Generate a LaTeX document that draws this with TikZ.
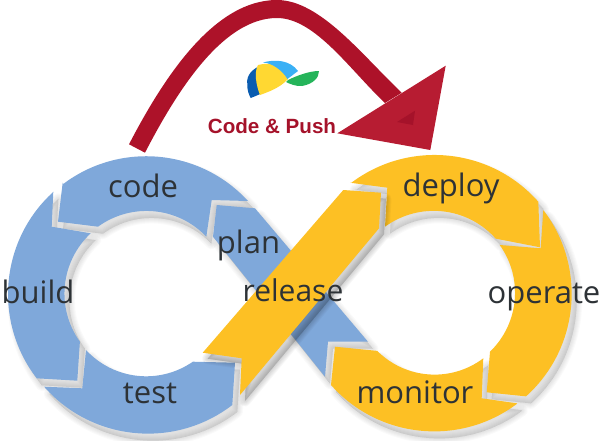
\documentclass[tikz,border=0pt]{standalone}
\usepackage{fontspec}
\setmainfont{Open Sans}
\newfontfamily\headfont{Liberation Sans}
\definecolor{ringblue}{HTML}{7FA8DA}
\definecolor{ringyellow}{HTML}{FDC024}
\definecolor{labelink}{HTML}{2D3236}
\definecolor{bandred}{HTML}{AD1229}
\definecolor{headred}{HTML}{B71C32}
\definecolor{headdark}{HTML}{A5122A}
\definecolor{capblue}{HTML}{0A5CB0}
\definecolor{capsky}{HTML}{3AB0F5}
\definecolor{capyellow}{HTML}{FFD832}
\definecolor{capgreen}{HTML}{25B45A}
\tikzset{
  stagelabel/.style={anchor=base,inner sep=0pt,text=labelink,font=\fontsize{31}{31}\selectfont},
  softedge/.style={draw=black,fill=black,draw opacity=.018,fill opacity=.018,line join=round},
  softedgeb/.style={draw=black,fill=black,draw opacity=.03,fill opacity=.03,line join=round},
}
% left ring, centre (147,293.5)
\def\pcode{(62.7,182.7) -- (58,221.7) -- (98,226.7) arc[start angle=-126,end angle=-43.5,radius=82.5] -- (211.7,200) -- (248,201) arc[start angle=-42.5,end angle=-127,radius=138] -- cycle}
\def\pbuild{(53.3,191.7) -- (51.7,226.7) -- (90.7,233.3) arc[start angle=-133,end angle=-215.6,radius=82.5] -- (77.3,380.7) -- (36.7,378.3) arc[start angle=-217.6,end angle=-132.6,radius=138] -- cycle}
\def\ptest{(44.3,386.7) -- (82.3,388.3) -- (86,350) arc[start angle=-222.8,end angle=-304.7,radius=82] -- (235,362.7) -- (232.3,405) arc[start angle=-307.5,end angle=-222,radius=138.5] -- cycle}
\def\pplan{(216.7,205) -- (255,208.3) -- (368,341.7) -- (328,341.7) -- (325,376.7) -- (213,236.7) -- cycle}
% right ring, centre (434,293.5)
\def\pdeploy{(350,182.7) -- (387.3,187.7) -- (385,226.7) arc[start angle=-126,end angle=-41.7,radius=83] -- (540,247.3) -- (538.3,201.7) arc[start angle=-41.5,end angle=-127,radius=138.5] -- cycle}
\def\poperate{(543.3,210) arc[start angle=-37.4,end angle=48,radius=138] -- (486.7,392.3) -- (490,351.7) arc[start angle=46,end angle=-35.6,radius=82] -- (540.7,248.3) -- cycle}
\def\pmonitor{(516.7,403.3) -- (481.7,398.3) -- (483.3,358.3) arc[start angle=53,end angle=135,radius=81] -- (335,346.7) -- (331,385) arc[start angle=138.4,end angle=53,radius=138] -- cycle}
\def\prelease{(343.3,190) -- (381,192.7) -- (379,228.3) -- (240,395) -- (241.7,358.3) -- (202.7,352.7) -- cycle}
\newcommand{\softshadow}[1]{%
  \foreach \w in {1,3,...,11}{\path[softedge,line width=\w pt,shift={(5,7)}] #1;}}
\newcommand{\softshadowb}[1]{%
  \foreach \w in {1,3,...,11}{\path[softedgeb,line width=\w pt,shift={(5,6)}] #1;}}
\begin{document}
\begin{tikzpicture}[x=1pt,y=1pt,yscale=-1]
\useasboundingbox (0,0) rectangle (603,440);
\clip (0,0) rectangle (603,440);
% shadows under the loop
\softshadow{\pcode}\softshadow{\pbuild}\softshadow{\ptest}
\softshadow{\pdeploy}\softshadow{\poperate}\softshadow{\pmonitor}
\softshadow{\pplan}
% blue half
\fill[ringblue] \pcode;
\fill[ringblue] \pbuild;
\fill[ringblue] \ptest;
\fill[ringblue] \pplan;
% yellow half
\fill[ringyellow] \pdeploy;
\fill[ringyellow] \poperate;
\softshadowb{\prelease}
\fill[ringyellow] \prelease;
\fill[ringyellow] \pmonitor;
% labels
\node[stagelabel] (code) at (143,197.5) {code};
\node[stagelabel] (build) at (38,303.5) {build};
\node[stagelabel] (test) at (150,403.2) {test};
\node[stagelabel] (plan) at (248.5,253.8) {plan};
\node[stagelabel,font=\fontsize{30}{30}\selectfont] (release) at (293,301.5) {release};
\node[stagelabel] (deploy) at (451,196.5) {deploy};
\node[stagelabel] (operate) at (544,303.5) {operate};
\node[stagelabel] (monitor) at (415,403) {monitor};
% red arrow
\fill[bandred] (129,144.3) .. controls (165,75) and (215,0) .. (277,0) .. controls (320,0) and (362,55) .. (401.7,92.7)
  -- (385,103) .. controls (350,70) and (315,18) .. (277,18) .. controls (225,18) and (180,85) .. (145,152.7) -- cycle;
\fill[headred] (445.7,65.7) -- (430.3,150) -- (337.3,133.3) -- cycle;
\fill[headdark] (415,110.7) -- (413,125) -- (397,122) -- cycle;
% cap
\fill[capblue] (263,65) .. controls (252,68) and (246,76) .. (247.3,84) .. controls (247,90) and (249,95) .. (250.7,98) .. controls (256,96) and (260,94) .. (265,92) -- (258,80) -- cycle;
\fill[capyellow] (258,65) .. controls (270,62) and (280,64) .. (288,79) .. controls (280,88) and (268,92) .. (260,95) .. controls (256,85) and (254,72) .. (258,65) -- cycle;
\fill[capsky] (263,62.5) .. controls (275,59) and (290,60) .. (298,71) -- (287.5,79) .. controls (282,70) and (272,63) .. (263,62.5) -- cycle;
\fill[capgreen] (288,80) .. controls (296,76) and (309,71) .. (319,71) .. controls (319,78) and (313,84) .. (302,86) .. controls (296,86.5) and (290,84) .. (286,82) -- cycle;
\node[anchor=base,inner sep=0pt,text=headdark,font=\headfont\bfseries\fontsize{20.6}{20.6}\selectfont] (push) at (272,133.3) {Code \& Push};
\end{tikzpicture}
\end{document}
